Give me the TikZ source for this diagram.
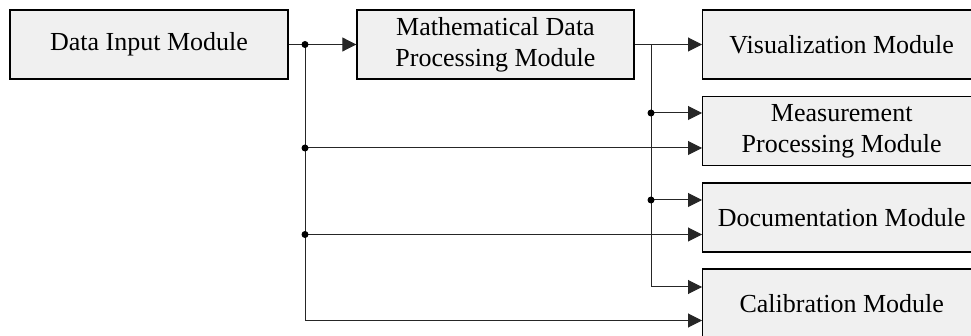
\documentclass[tikz,border=0pt]{standalone}
\usepackage{fontspec}
\setmainfont{Liberation Serif}
\usetikzlibrary{arrows.meta}

\tikzset{
	module/.style={draw=black,line width=1.4pt,fill=black!6,minimum width=278pt,minimum height=69pt,inner sep=0pt,align=center,font=\fontsize{26}{31}\selectfont},
	link/.style={draw=black!85,line width=1pt,-{Triangle[length=14pt,width=14pt]}},
	joint/.style={circle,fill=black,inner sep=0pt,minimum size=7pt}
}

\begin{document}
\begin{tikzpicture}[x=1pt,y=-1pt]
	\useasboundingbox (0,0) rectangle (971,336);

	\node[module] (input) at (149,44.5) {Data Input Module}; % source
	\node[module,minimum width=277pt] (math) at (495.5,44.5) {Mathematical Data\\Processing Module}; % processing
	\node[module,anchor=west] (vis) at (702,44.5) {Visualization Module};
	\node[module,anchor=west] (meas) at (702,131) {Measurement\\Processing Module};
	\node[module,anchor=west] (doc) at (702,217.5) {Documentation Module};
	\node[module,anchor=west] (calib) at (702,303.5) {Calibration Module};

	\coordinate (measA) at ([yshift=18pt]meas.west); % upper inputs
	\coordinate (docA) at ([yshift=17.5pt]doc.west);
	\coordinate (calibA) at ([yshift=16.5pt]calib.west);
	\coordinate (measB) at ([yshift=-17pt]meas.west); % lower inputs
	\coordinate (docB) at ([yshift=-17pt]doc.west);
	\coordinate (calibB) at ([yshift=-17pt]calib.west);

	\coordinate (splitA) at (305,44.5); % input branch
	\coordinate (splitB) at (651,44.5); % processing branch

	\draw[link] (input.east) -- (math.west);
	\draw[link] (math.east) -- (vis.west);

	\draw[link] (splitA) |- (calibB);
	\draw[link] (splitA |- measB) -- (measB);
	\draw[link] (splitA |- docB) -- (docB);

	\draw[link] (splitB) |- (calibA);
	\draw[link] (splitB |- measA) -- (measA);
	\draw[link] (splitB |- docA) -- (docA);

	\node[joint] (dotA) at (splitA) {};
	\node[joint] (dotB) at (splitA |- measB) {};
	\node[joint] (dotC) at (splitA |- docB) {};
	\node[joint] (dotD) at (splitB |- measA) {};
	\node[joint] (dotE) at (splitB |- docA) {};
\end{tikzpicture}
\end{document}
